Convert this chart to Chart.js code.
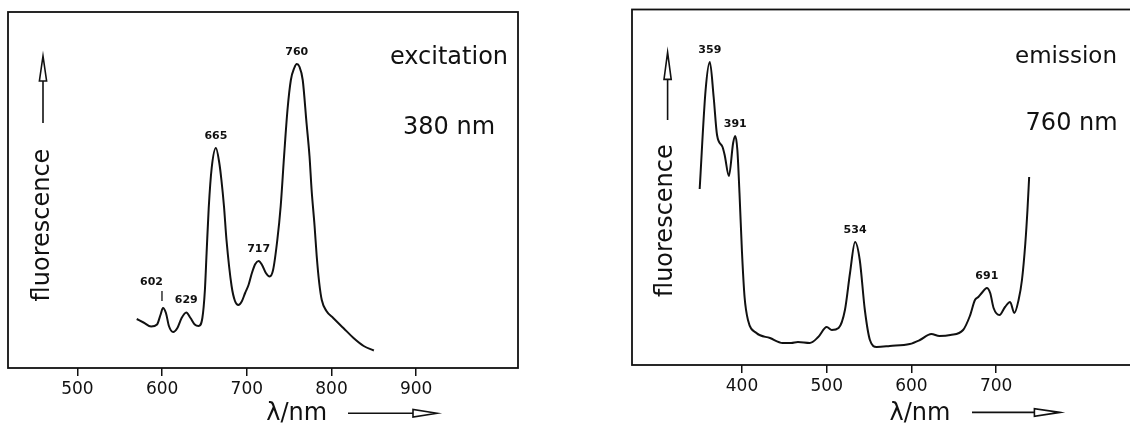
<!DOCTYPE html>
<html><head><meta charset="utf-8">
<script src="https://cdn.jsdelivr.net/npm/chart.js@4.4.1/dist/chart.umd.min.js"></script>
<style>
html,body{margin:0;padding:0;background:#fff;overflow:hidden;}
#wrap{position:relative;width:1130px;height:424px;overflow:hidden;background:#fff;}
#c1{position:absolute;left:0;top:0;}
#c2{position:absolute;left:600px;top:0;}
</style></head><body>
<div id="wrap">
<canvas id="c1" width="530" height="424" style="width:530px;height:424px"></canvas>
<canvas id="c2" width="540" height="424" style="width:540px;height:424px"></canvas>
</div>
<script>
// ---- data ----
const excitationWavelength = [570,578,587,594,598,601,604.5,608,613,618,623,628.5,633.5,638.5,643,647.5,650.5,652.5,655,658.5,663.5,667.5,670,673,676,682,686,690,694,698,702,706,710,714,718,722.5,727,731,736,740,744,748,752,756,759,762,766,770.5,774,776.5,780,782.5,785.5,788.5,794,802,814,826,838,850];
const excitationFluorescence = [49,45.5,41.5,43.5,53,60,55,42,36,40,50,55.5,50,43.5,42,50,78,115,160,200,220,205,188,162,128,82,67,63,66.5,75,83,95,104,107,103,95,91.5,98,128,162,212,258,288,300,304,301.5,288,245,212,178,142,112,85,68,57,50,40,30,22,17.5];

const emissionWavelength = [350,357,362,366.5,370.5,377,379.5,384.5,389.5,392,394.5,397,400,403,407,417,433,448,458,466,480,490,500,506,514,521.5,527.5,533.5,539,545,551,559,574.5,598,610,623.5,633,646,661,669,675,679,683,689,693,697,704,710.5,716.5,721.5,726.5,730.5,734.5,737,739];
const emissionFluorescence = [176,275,303,268,230,218,210,189,222,229,215,172,112,68,45,32,27,22,22,23,22,28,38,35,37,55,92,123,105,55,25,18,19,21,25,31,29,30,35,49,65,68,72,77,72,57,50,58,63,52,65,85,122,155,188];

const excitationTicks = [500,600,700,800,900];
const emissionTicks = [400,500,600,700];

const excitationPeakLabels = ["602","629","665","717","760"];
const excitationPeakAt = [601,628.5,663.5,714,759];
const emissionPeakLabels = ["359","391","534","691"];
const emissionPeakAt = [362,392,533.5,689];

// ---- drawing ----
const INK = '#111';
const FONT = "'DejaVu Sans', 'Liberation Sans', sans-serif";

function decoPlugin(o){
  return {
    id:'deco',
    afterDraw(chart){
      const {ctx, chartArea:a, scales:{x,y}} = chart;
      const pts = chart.data.datasets[0].data;
      ctx.save();
      ctx.strokeStyle = INK; ctx.fillStyle = INK;
      // frame
      ctx.lineWidth = 1.8;
      ctx.strokeRect(a.left, a.top, a.right-a.left, a.bottom-a.top);
      // peak labels
      ctx.font = 'bold 11px ' + FONT;
      ctx.textAlign = 'center'; ctx.textBaseline = 'middle';
      o.peakText.forEach((t,i)=>{
        const at = o.peakAt[i];
        let m = -Infinity;
        pts.forEach(p=>{ if (Math.abs(p.x-at) <= 4) m = Math.max(m, p.y); });
        const px = x.getPixelForValue(at), py = y.getPixelForValue(m);
        if (o.leader && o.leader.includes(t)) {
          ctx.lineWidth = 1.3;
          ctx.beginPath(); ctx.moveTo(px-1, py-7); ctx.lineTo(px-1, py-17); ctx.stroke();
          ctx.fillText(t, px-11.5, py-26);
        } else {
          ctx.fillText(t, px, py-12);
        }
      });
      // notes
      ctx.textBaseline = 'alphabetic';
      o.notes.forEach(n=>{ ctx.font = n.size + 'px ' + FONT; ctx.fillText(n.text, n.cx, n.base); });
      // y title
      ctx.save();
      ctx.translate(o.yTitle.cx, o.yTitle.cy); ctx.rotate(-Math.PI/2);
      ctx.font = '24px ' + FONT; ctx.textBaseline = 'middle';
      ctx.fillText(o.yTitle.text, 0, 0);
      ctx.restore();
      // y arrow
      const ya = o.yArrow;
      ctx.lineWidth = 1.6;
      ctx.beginPath();
      ctx.moveTo(ya.cx, ya.tip);
      ctx.lineTo(ya.cx-ya.halfW, ya.tip+ya.headLen);
      ctx.lineTo(ya.cx+ya.halfW, ya.tip+ya.headLen);
      ctx.closePath(); ctx.stroke();
      ctx.beginPath(); ctx.moveTo(ya.cx, ya.tip+ya.headLen); ctx.lineTo(ya.cx, ya.bottom); ctx.stroke();
      // x title
      ctx.font = '24px ' + FONT; ctx.textBaseline = 'middle'; ctx.textAlign = 'center';
      ctx.fillText(o.xTitle.text, o.xTitle.cx, o.xTitle.cy);
      // x arrow
      const xa = o.xArrow;
      ctx.beginPath(); ctx.moveTo(xa.x0, xa.y); ctx.lineTo(xa.head, xa.y); ctx.stroke();
      ctx.beginPath();
      ctx.moveTo(xa.tip, xa.y);
      ctx.lineTo(xa.head, xa.y-xa.halfH);
      ctx.lineTo(xa.head, xa.y+xa.halfH);
      ctx.closePath(); ctx.stroke();
      ctx.restore();
    }
  };
}

function makePanel(id, o){
  const data = o.wl.map((w,i)=>({x:w, y:o.fl[i]}));
  return new Chart(document.getElementById(id), {
    type:'line',
    data:{datasets:[{data, borderColor:INK, borderWidth:2, pointRadius:0, fill:false, cubicInterpolationMode:'monotone'}]},
    options:{
      responsive:false, animation:false, events:[],
      layout:{padding:o.pad},
      plugins:{legend:{display:false}, tooltip:{enabled:false}},
      scales:{
        x:{type:'linear', min:o.xmin, max:o.xmax,
          afterBuildTicks:s=>{ s.ticks = o.ticks.map(v=>({value:v})); },
          afterFit:s=>{ s.height = o.axisH; },
          grid:{display:true, drawOnChartArea:false, drawTicks:true, tickLength:8, color:INK, lineWidth:1.5},
          border:{display:false},
          ticks:{color:INK, font:{family:FONT, size:17}, padding:3, maxRotation:0, autoSkip:false}
        },
        y:{type:'linear', display:false, min:0, max:o.ymax}
      }
    },
    plugins:[decoPlugin(o)]
  });
}

makePanel('c1', {
  wl:excitationWavelength, fl:excitationFluorescence, ticks:excitationTicks,
  xmin:418, xmax:1020.2, ymax:356,
  pad:{left:8, top:12, right:12, bottom:0}, axisH:56,
  peakText:excitationPeakLabels, peakAt:excitationPeakAt, leader:["602"],
  notes:[{text:'excitation', cx:449, base:64, size:24},{text:'380 nm', cx:449, base:133.5, size:24}],
  yTitle:{text:'fluorescence', cx:43, cy:225},
  yArrow:{cx:43, tip:56, headLen:25, halfW:3.6, bottom:123},
  xTitle:{text:'λ/nm', cx:296.7, cy:414},
  xArrow:{y:413.3, x0:348, head:413, tip:437, halfH:3.8}
});

makePanel('c2', {
  wl:emissionWavelength, fl:emissionFluorescence, ticks:emissionTicks,
  xmin:270.1, xmax:861.6, ymax:355.5,
  pad:{left:32, top:9.5, right:7, bottom:0}, axisH:59,
  peakText:emissionPeakLabels, peakAt:emissionPeakAt,
  notes:[{text:'emission', cx:466, base:62.5, size:23},{text:'760 nm', cx:471.6, base:130, size:24}],
  yTitle:{text:'fluorescence', cx:65.5, cy:220.6},
  yArrow:{cx:67.6, tip:52.4, headLen:27, halfW:3.6, bottom:120},
  xTitle:{text:'λ/nm', cx:320, cy:414},
  xArrow:{y:412.4, x0:372, head:434.4, tip:459.8, halfH:3.8}
});
</script>
</body></html>
